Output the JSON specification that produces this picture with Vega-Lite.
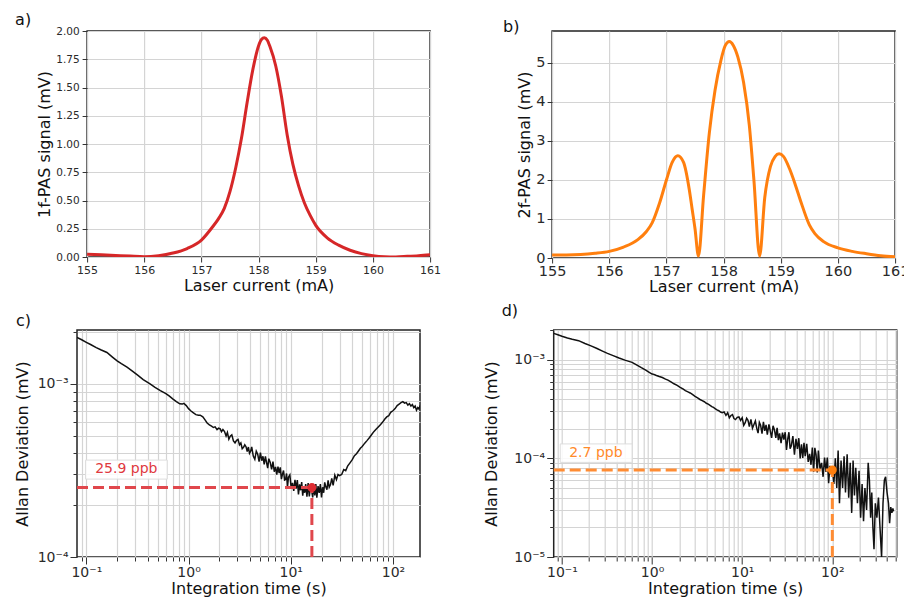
{
  "$schema": "https://vega.github.io/schema/vega-lite/v6.json",
  "padding": {"left": 13, "top": 11, "right": 0, "bottom": 0},
  "background": "white",
  "config": {
    "font": "DejaVu Sans",
    "view": {"stroke": "#222", "strokeWidth": 1.5},
    "axis": {"domain": false, "gridColor": "#d4d4d4", "gridWidth": 1.2, "tickColor": "#333", "labelColor": "#2a2a2a", "titleColor": "#111", "titleFontSize": 16, "titleFontWeight": "normal", "labelFlush": false, "labelOverlap": false, "labelFont": "DejaVu Sans", "titleFont": "DejaVu Sans"},
    "title": {"fontSize": 16, "fontWeight": "normal", "anchor": "start", "frame": "group", "color": "#111", "font": "DejaVu Sans"}
  },
  "datasets": {
    "a": [
      {"current": 155.0, "signal": 0.025}, {"current": 155.25, "signal": 0.02}, {"current": 155.5, "signal": 0.014}, {"current": 155.75, "signal": 0.008},
      {"current": 156.0, "signal": 0.003}, {"current": 156.25, "signal": 0.012}, {"current": 156.5, "signal": 0.035}, {"current": 156.75, "signal": 0.075},
      {"current": 157.0, "signal": 0.15}, {"current": 157.2, "signal": 0.27}, {"current": 157.3, "signal": 0.34}, {"current": 157.4, "signal": 0.43},
      {"current": 157.5, "signal": 0.58}, {"current": 157.6, "signal": 0.79}, {"current": 157.7, "signal": 1.05}, {"current": 157.8, "signal": 1.37},
      {"current": 157.9, "signal": 1.66}, {"current": 158.0, "signal": 1.87}, {"current": 158.05, "signal": 1.925}, {"current": 158.1, "signal": 1.94},
      {"current": 158.15, "signal": 1.92}, {"current": 158.2, "signal": 1.86}, {"current": 158.3, "signal": 1.69}, {"current": 158.4, "signal": 1.42},
      {"current": 158.5, "signal": 1.08}, {"current": 158.6, "signal": 0.82}, {"current": 158.7, "signal": 0.63}, {"current": 158.8, "signal": 0.48},
      {"current": 158.9, "signal": 0.37}, {"current": 159.0, "signal": 0.28}, {"current": 159.2, "signal": 0.17}, {"current": 159.4, "signal": 0.105},
      {"current": 159.6, "signal": 0.06}, {"current": 159.8, "signal": 0.03}, {"current": 160.0, "signal": 0.012}, {"current": 160.2, "signal": 0.003},
      {"current": 160.4, "signal": 0.001}, {"current": 160.6, "signal": 0.006}, {"current": 160.8, "signal": 0.012}, {"current": 161.0, "signal": 0.02}
    ],
    "b": [
      {"current": 155.0, "signal": 0.08}, {"current": 155.25, "signal": 0.08}, {"current": 155.5, "signal": 0.09}, {"current": 155.75, "signal": 0.12},
      {"current": 156.0, "signal": 0.17}, {"current": 156.25, "signal": 0.28}, {"current": 156.5, "signal": 0.47}, {"current": 156.65, "signal": 0.68},
      {"current": 156.75, "signal": 0.9}, {"current": 156.88, "signal": 1.41}, {"current": 157.0, "signal": 2.0}, {"current": 157.1, "signal": 2.45},
      {"current": 157.2, "signal": 2.62}, {"current": 157.3, "signal": 2.45}, {"current": 157.4, "signal": 1.75}, {"current": 157.45, "signal": 1.25},
      {"current": 157.5, "signal": 0.75}, {"current": 157.56, "signal": 0.05}, {"current": 157.65, "signal": 1.6}, {"current": 157.75, "signal": 3.2},
      {"current": 157.85, "signal": 4.3}, {"current": 157.95, "signal": 5.05}, {"current": 158.03, "signal": 5.45}, {"current": 158.1, "signal": 5.55},
      {"current": 158.17, "signal": 5.45}, {"current": 158.25, "signal": 5.15}, {"current": 158.35, "signal": 4.5}, {"current": 158.45, "signal": 3.4},
      {"current": 158.53, "signal": 2.0}, {"current": 158.63, "signal": 0.05}, {"current": 158.72, "signal": 1.55}, {"current": 158.82, "signal": 2.35},
      {"current": 158.9, "signal": 2.6}, {"current": 158.97, "signal": 2.67}, {"current": 159.05, "signal": 2.6}, {"current": 159.15, "signal": 2.3},
      {"current": 159.25, "signal": 1.9}, {"current": 159.35, "signal": 1.45}, {"current": 159.5, "signal": 0.85}, {"current": 159.6, "signal": 0.62},
      {"current": 159.75, "signal": 0.42}, {"current": 160.0, "signal": 0.26}, {"current": 160.25, "signal": 0.17}, {"current": 160.5, "signal": 0.11},
      {"current": 160.75, "signal": 0.06}, {"current": 161.0, "signal": 0.03}
    ],
    "c": [
      {"tau": 0.081, "adev": 0.00186}, {"tau": 0.09, "adev": 0.0018}, {"tau": 0.1, "adev": 0.00174}, {"tau": 0.11, "adev": 0.00169},
      {"tau": 0.125, "adev": 0.00162}, {"tau": 0.14, "adev": 0.00157}, {"tau": 0.159, "adev": 0.00152}, {"tau": 0.18, "adev": 0.00143},
      {"tau": 0.2, "adev": 0.00136}, {"tau": 0.22, "adev": 0.00131}, {"tau": 0.25, "adev": 0.00125}, {"tau": 0.28, "adev": 0.00119},
      {"tau": 0.32, "adev": 0.00112}, {"tau": 0.36, "adev": 0.00106}, {"tau": 0.42, "adev": 0.001}, {"tau": 0.47, "adev": 0.000955},
      {"tau": 0.53, "adev": 0.000915}, {"tau": 0.6, "adev": 0.00088}, {"tau": 0.65, "adev": 0.00085}, {"tau": 0.7, "adev": 0.00082},
      {"tau": 0.76, "adev": 0.00079}, {"tau": 0.82, "adev": 0.000768}, {"tau": 0.87, "adev": 0.000765}, {"tau": 0.9, "adev": 0.000772},
      {"tau": 0.95, "adev": 0.00075}, {"tau": 1.0, "adev": 0.00072}, {"tau": 1.05, "adev": 0.0007}, {"tau": 1.1, "adev": 0.000685},
      {"tau": 1.18, "adev": 0.000665}, {"tau": 1.25, "adev": 0.00066}, {"tau": 1.3, "adev": 0.00066}, {"tau": 1.38, "adev": 0.000645},
      {"tau": 1.45, "adev": 0.00062}, {"tau": 1.52, "adev": 0.000595}, {"tau": 1.6, "adev": 0.00058}, {"tau": 1.68, "adev": 0.00057},
      {"tau": 1.75, "adev": 0.00056}, {"tau": 1.82, "adev": 0.000565}, {"tau": 1.9, "adev": 0.000545}, {"tau": 1.97, "adev": 0.000555},
      {"tau": 2.04, "adev": 0.00055}, {"tau": 2.1, "adev": 0.00053}, {"tau": 2.17, "adev": 0.000545}, {"tau": 2.25, "adev": 0.000531},
      {"tau": 2.33, "adev": 0.0005}, {"tau": 2.4, "adev": 0.000525}, {"tau": 2.48, "adev": 0.00048}, {"tau": 2.56, "adev": 0.000499},
      {"tau": 2.65, "adev": 0.000508}, {"tau": 2.75, "adev": 0.000469}, {"tau": 2.85, "adev": 0.000456}, {"tau": 2.95, "adev": 0.000472},
      {"tau": 3.05, "adev": 0.000478}, {"tau": 3.15, "adev": 0.000445}, {"tau": 3.25, "adev": 0.000456}, {"tau": 3.35, "adev": 0.000422},
      {"tau": 3.45, "adev": 0.00043}, {"tau": 3.55, "adev": 0.000445}, {"tau": 3.65, "adev": 0.000434}, {"tau": 3.75, "adev": 0.000407},
      {"tau": 3.85, "adev": 0.000432}, {"tau": 3.95, "adev": 0.000397}, {"tau": 4.05, "adev": 0.000408}, {"tau": 4.15, "adev": 0.000433},
      {"tau": 4.3, "adev": 0.000383}, {"tau": 4.45, "adev": 0.000367}, {"tau": 4.6, "adev": 0.000409}, {"tau": 4.75, "adev": 0.000393},
      {"tau": 4.9, "adev": 0.000356}, {"tau": 5.05, "adev": 0.000401}, {"tau": 5.2, "adev": 0.00036}, {"tau": 5.35, "adev": 0.000382},
      {"tau": 5.5, "adev": 0.000343}, {"tau": 5.65, "adev": 0.000381}, {"tau": 5.8, "adev": 0.000351}, {"tau": 5.95, "adev": 0.000326},
      {"tau": 6.1, "adev": 0.00037}, {"tau": 6.3, "adev": 0.000352}, {"tau": 6.5, "adev": 0.000321}, {"tau": 6.7, "adev": 0.000356},
      {"tau": 6.9, "adev": 0.000311}, {"tau": 7.1, "adev": 0.000332}, {"tau": 7.3, "adev": 0.000299}, {"tau": 7.5, "adev": 0.000333},
      {"tau": 7.7, "adev": 0.000305}, {"tau": 7.9, "adev": 0.00033}, {"tau": 8.1, "adev": 0.000282}, {"tau": 8.3, "adev": 0.000301},
      {"tau": 8.5, "adev": 0.000316}, {"tau": 8.7, "adev": 0.000278}, {"tau": 8.9, "adev": 0.00028}, {"tau": 9.1, "adev": 0.000304},
      {"tau": 9.3, "adev": 0.000255}, {"tau": 9.5, "adev": 0.000289}, {"tau": 9.8, "adev": 0.000298}, {"tau": 10.1, "adev": 0.000251},
      {"tau": 10.4, "adev": 0.000268}, {"tau": 10.7, "adev": 0.000241}, {"tau": 11.0, "adev": 0.000279}, {"tau": 11.3, "adev": 0.000248},
      {"tau": 11.6, "adev": 0.000278}, {"tau": 11.9, "adev": 0.00023}, {"tau": 12.2, "adev": 0.000263}, {"tau": 12.5, "adev": 0.000243},
      {"tau": 12.8, "adev": 0.000271}, {"tau": 13.1, "adev": 0.000226}, {"tau": 13.4, "adev": 0.000256}, {"tau": 13.7, "adev": 0.000235},
      {"tau": 14.0, "adev": 0.000264}, {"tau": 14.4, "adev": 0.000223}, {"tau": 14.8, "adev": 0.000267}, {"tau": 15.2, "adev": 0.000224},
      {"tau": 15.6, "adev": 0.000255}, {"tau": 16.0, "adev": 0.000243}, {"tau": 16.4, "adev": 0.000221}, {"tau": 16.8, "adev": 0.00026},
      {"tau": 17.2, "adev": 0.000227}, {"tau": 17.6, "adev": 0.000264}, {"tau": 18.0, "adev": 0.00022}, {"tau": 18.5, "adev": 0.000257},
      {"tau": 19.0, "adev": 0.000235}, {"tau": 19.5, "adev": 0.000264}, {"tau": 20.0, "adev": 0.000221}, {"tau": 20.5, "adev": 0.000253},
      {"tau": 21.0, "adev": 0.000235}, {"tau": 21.5, "adev": 0.00027}, {"tau": 22.0, "adev": 0.000255}, {"tau": 22.6, "adev": 0.000245},
      {"tau": 23.2, "adev": 0.000277}, {"tau": 23.8, "adev": 0.000253}, {"tau": 24.5, "adev": 0.000262}, {"tau": 25.2, "adev": 0.000285},
      {"tau": 26.0, "adev": 0.000259}, {"tau": 27.0, "adev": 0.000297}, {"tau": 28.0, "adev": 0.00028}, {"tau": 29.0, "adev": 0.0003},
      {"tau": 30.0, "adev": 0.000295}, {"tau": 31.5, "adev": 0.0003}, {"tau": 33.0, "adev": 0.00032}, {"tau": 34.5, "adev": 0.000315},
      {"tau": 36.0, "adev": 0.000335}, {"tau": 38.0, "adev": 0.00035}, {"tau": 40.0, "adev": 0.000365}, {"tau": 42.0, "adev": 0.000385},
      {"tau": 44.0, "adev": 0.000395}, {"tau": 46.0, "adev": 0.00041}, {"tau": 48.0, "adev": 0.000425}, {"tau": 50.0, "adev": 0.000435},
      {"tau": 53.0, "adev": 0.000455}, {"tau": 56.0, "adev": 0.000472}, {"tau": 59.0, "adev": 0.00049}, {"tau": 62.0, "adev": 0.00051},
      {"tau": 65.0, "adev": 0.00053}, {"tau": 68.0, "adev": 0.000545}, {"tau": 71.0, "adev": 0.00056}, {"tau": 75.0, "adev": 0.00058},
      {"tau": 79.0, "adev": 0.0006}, {"tau": 83.0, "adev": 0.000625}, {"tau": 87.0, "adev": 0.000645}, {"tau": 91.0, "adev": 0.000655},
      {"tau": 95.0, "adev": 0.000685}, {"tau": 100.0, "adev": 0.0007}, {"tau": 105.0, "adev": 0.00072}, {"tau": 110.0, "adev": 0.00075},
      {"tau": 115.0, "adev": 0.000765}, {"tau": 120.0, "adev": 0.00078}, {"tau": 125.0, "adev": 0.00079}, {"tau": 130.0, "adev": 0.000775},
      {"tau": 135.0, "adev": 0.00078}, {"tau": 140.0, "adev": 0.000755}, {"tau": 145.0, "adev": 0.00077}, {"tau": 150.0, "adev": 0.000745},
      {"tau": 155.0, "adev": 0.00076}, {"tau": 160.0, "adev": 0.00073}, {"tau": 165.0, "adev": 0.000745}, {"tau": 170.0, "adev": 0.000705},
      {"tau": 175.0, "adev": 0.00073}, {"tau": 180.0, "adev": 0.000715}, {"tau": 184.0, "adev": 0.00075}
    ],
    "d": [
      {"tau": 0.081, "adev": 0.00185}, {"tau": 0.09, "adev": 0.00179}, {"tau": 0.1, "adev": 0.00173}, {"tau": 0.115, "adev": 0.00166},
      {"tau": 0.13, "adev": 0.00161}, {"tau": 0.153, "adev": 0.00156}, {"tau": 0.18, "adev": 0.00146}, {"tau": 0.21, "adev": 0.00138},
      {"tau": 0.245, "adev": 0.0013}, {"tau": 0.278, "adev": 0.00123}, {"tau": 0.32, "adev": 0.00116}, {"tau": 0.37, "adev": 0.0011},
      {"tau": 0.43, "adev": 0.00104}, {"tau": 0.5, "adev": 0.00099}, {"tau": 0.6, "adev": 0.00094}, {"tau": 0.68, "adev": 0.00088},
      {"tau": 0.76, "adev": 0.00083}, {"tau": 0.85, "adev": 0.000785}, {"tau": 0.92, "adev": 0.00075}, {"tau": 1.0, "adev": 0.000715},
      {"tau": 1.05, "adev": 0.00071}, {"tau": 1.1, "adev": 0.000695}, {"tau": 1.2, "adev": 0.000675}, {"tau": 1.3, "adev": 0.00066},
      {"tau": 1.41, "adev": 0.000636}, {"tau": 1.5, "adev": 0.00062}, {"tau": 1.62, "adev": 0.000595}, {"tau": 1.75, "adev": 0.00057},
      {"tau": 1.9, "adev": 0.00055}, {"tau": 2.05, "adev": 0.000525}, {"tau": 2.2, "adev": 0.000505}, {"tau": 2.34, "adev": 0.000485},
      {"tau": 2.5, "adev": 0.000472}, {"tau": 2.65, "adev": 0.00046}, {"tau": 2.8, "adev": 0.000445}, {"tau": 3.0, "adev": 0.000425},
      {"tau": 3.2, "adev": 0.00041}, {"tau": 3.4, "adev": 0.000395}, {"tau": 3.6, "adev": 0.000385}, {"tau": 3.8, "adev": 0.000375},
      {"tau": 4.0, "adev": 0.000362}, {"tau": 4.2, "adev": 0.000355}, {"tau": 4.4, "adev": 0.000345}, {"tau": 4.6, "adev": 0.000335},
      {"tau": 4.8, "adev": 0.000328}, {"tau": 5.0, "adev": 0.00032}, {"tau": 5.25, "adev": 0.00031}, {"tau": 5.5, "adev": 0.000304},
      {"tau": 5.75, "adev": 0.000295}, {"tau": 6.0, "adev": 0.00029}, {"tau": 6.3, "adev": 0.000296}, {"tau": 6.6, "adev": 0.000273},
      {"tau": 6.9, "adev": 0.00029}, {"tau": 7.2, "adev": 0.000258}, {"tau": 7.5, "adev": 0.000272}, {"tau": 7.8, "adev": 0.000278},
      {"tau": 8.1, "adev": 0.000253}, {"tau": 8.43, "adev": 0.000247}, {"tau": 8.8, "adev": 0.00026}, {"tau": 9.2, "adev": 0.000263},
      {"tau": 9.6, "adev": 0.000242}, {"tau": 10.0, "adev": 0.000258}, {"tau": 10.4, "adev": 0.000216}, {"tau": 10.8, "adev": 0.00023},
      {"tau": 11.2, "adev": 0.000255}, {"tau": 11.6, "adev": 0.000243}, {"tau": 12.0, "adev": 0.00021}, {"tau": 12.5, "adev": 0.000248},
      {"tau": 13.0, "adev": 0.000202}, {"tau": 13.5, "adev": 0.00022}, {"tau": 14.0, "adev": 0.000239}, {"tau": 14.5, "adev": 0.000202},
      {"tau": 15.0, "adev": 0.00018}, {"tau": 15.5, "adev": 0.000232}, {"tau": 16.0, "adev": 0.000217}, {"tau": 16.6, "adev": 0.000178},
      {"tau": 17.2, "adev": 0.000235}, {"tau": 17.8, "adev": 0.00019}, {"tau": 18.4, "adev": 0.000218}, {"tau": 19.0, "adev": 0.000174},
      {"tau": 19.8, "adev": 0.000221}, {"tau": 20.5, "adev": 0.000189}, {"tau": 21.2, "adev": 0.000161}, {"tau": 22.0, "adev": 0.000214},
      {"tau": 22.8, "adev": 0.000194}, {"tau": 23.6, "adev": 0.000161}, {"tau": 24.4, "adev": 0.000204}, {"tau": 25.2, "adev": 0.000153},
      {"tau": 26.0, "adev": 0.000179}, {"tau": 27.0, "adev": 0.000143}, {"tau": 28.0, "adev": 0.000182}, {"tau": 29.0, "adev": 0.000155},
      {"tau": 30.0, "adev": 0.000184}, {"tau": 31.0, "adev": 0.000122}, {"tau": 32.0, "adev": 0.000157}, {"tau": 33.0, "adev": 0.000184},
      {"tau": 34.0, "adev": 0.000125}, {"tau": 35.0, "adev": 0.000133}, {"tau": 36.5, "adev": 0.000168}, {"tau": 38.0, "adev": 0.000109},
      {"tau": 39.5, "adev": 0.000158}, {"tau": 41.0, "adev": 0.000125}, {"tau": 42.5, "adev": 0.00016}, {"tau": 44.0, "adev": 0.0001},
      {"tau": 45.5, "adev": 0.000139}, {"tau": 47.0, "adev": 0.000101}, {"tau": 48.5, "adev": 0.000144}, {"tau": 50.0, "adev": 0.000105},
      {"tau": 52.0, "adev": 0.00014}, {"tau": 54.0, "adev": 0.000092}, {"tau": 56.0, "adev": 0.000111}, {"tau": 58.0, "adev": 0.000086},
      {"tau": 60.0, "adev": 0.000129}, {"tau": 62.0, "adev": 0.000073}, {"tau": 64.0, "adev": 0.000128}, {"tau": 66.0, "adev": 0.000109},
      {"tau": 68.0, "adev": 0.000072}, {"tau": 70.0, "adev": 0.00012}, {"tau": 73.0, "adev": 0.000078}, {"tau": 76.0, "adev": 0.00009},
      {"tau": 79.0, "adev": 0.000065}, {"tau": 82.0, "adev": 0.000102}, {"tau": 85.0, "adev": 0.000073}, {"tau": 88.0, "adev": 0.000102},
      {"tau": 91.0, "adev": 0.000056}, {"tau": 94.0, "adev": 0.000084}, {"tau": 97.0, "adev": 0.000069}, {"tau": 100.0, "adev": 0.00008},
      {"tau": 104.0, "adev": 0.000055}, {"tau": 108.0, "adev": 0.0001}, {"tau": 112.0, "adev": 0.00005}, {"tau": 116.0, "adev": 0.00012},
      {"tau": 120.0, "adev": 0.000035}, {"tau": 125.0, "adev": 0.000095}, {"tau": 130.0, "adev": 0.00005}, {"tau": 135.0, "adev": 0.000105},
      {"tau": 140.0, "adev": 0.000045}, {"tau": 146.0, "adev": 0.00011}, {"tau": 152.0, "adev": 0.00004}, {"tau": 158.0, "adev": 0.00009},
      {"tau": 164.0, "adev": 0.000028}, {"tau": 170.0, "adev": 0.000095}, {"tau": 176.0, "adev": 0.000042}, {"tau": 182.0, "adev": 0.00008},
      {"tau": 190.0, "adev": 0.000035}, {"tau": 198.0, "adev": 0.000075}, {"tau": 206.0, "adev": 0.000025}, {"tau": 214.0, "adev": 0.000055},
      {"tau": 222.0, "adev": 0.000023}, {"tau": 230.0, "adev": 0.00005}, {"tau": 240.0, "adev": 0.00003}, {"tau": 250.0, "adev": 0.00009},
      {"tau": 258.0, "adev": 0.00006}, {"tau": 266.0, "adev": 0.000025}, {"tau": 274.0, "adev": 0.000045}, {"tau": 282.0, "adev": 0.00002},
      {"tau": 290.0, "adev": 0.000012}, {"tau": 300.0, "adev": 0.000035}, {"tau": 312.0, "adev": 0.000025}, {"tau": 325.0, "adev": 0.00004},
      {"tau": 338.0, "adev": 0.00002}, {"tau": 352.0, "adev": 0.00001}, {"tau": 365.0, "adev": 0.000035}, {"tau": 378.0, "adev": 0.00006},
      {"tau": 390.0, "adev": 0.000065}, {"tau": 405.0, "adev": 0.000045}, {"tau": 420.0, "adev": 0.000035}, {"tau": 432.0, "adev": 0.000022},
      {"tau": 445.0, "adev": 0.000032}, {"tau": 458.0, "adev": 0.000028}, {"tau": 470.0, "adev": 0.000031}, {"tau": 478.0, "adev": 0.000029}
    ]
  },
  "spacing": 6,
  "vconcat": [
    {
      "spacing": -63.9,
      "hconcat": [
        {
          "width": 1, "height": 226,
          "view": {"stroke": null},
          "data": {"values": []},
          "mark": {"type": "point", "opacity": 0}
        },
        {
          "spacing": 60,
          "hconcat": [
            {
              "width": 343, "height": 226,
              "title": {"text": "a)", "dx": -72, "offset": -2},
              "data": {"name": "a"},
              "mark": {"type": "line", "color": "#d62728", "strokeWidth": 3, "interpolate": "monotone", "clip": true},
              "encoding": {
                "x": {"field": "current", "type": "quantitative", "scale": {"domain": [155, 161], "nice": false, "zero": false},
                      "axis": {"title": "Laser current (mA)", "values": [155, 156, 157, 158, 159, 160, 161], "labelFontSize": 11, "tickSize": 5, "labelPadding": 2, "titlePadding": 2}},
                "y": {"field": "signal", "type": "quantitative", "scale": {"domain": [0, 2], "nice": false},
                      "axis": {"title": "1f-PAS signal (mV)", "values": [0, 0.25, 0.5, 0.75, 1, 1.25, 1.5, 1.75, 2], "format": ".2f", "labelFontSize": 10.5, "tickSize": 5, "labelPadding": 3, "titlePadding": 3}}
              }
            },
            {
              "width": 343, "height": 227,
              "title": {"text": "b)", "dx": -49, "offset": -4},
              "data": {"name": "b"},
              "mark": {"type": "line", "color": "#ff7f0e", "strokeWidth": 3, "interpolate": "monotone", "clip": true},
              "encoding": {
                "x": {"field": "current", "type": "quantitative", "scale": {"domain": [155, 161], "nice": false, "zero": false},
                      "axis": {"title": "Laser current (mA)", "values": [155, 156, 157, 158, 159, 160, 161], "labelFontSize": 14.5, "tickSize": 5, "labelPadding": 1, "titlePadding": 1}},
                "y": {"field": "signal", "type": "quantitative", "scale": {"domain": [0, 5.82], "nice": false},
                      "axis": {"title": "2f-PAS signal (mV)", "values": [0, 1, 2, 3, 4, 5], "labelFontSize": 14.5, "tickSize": 5, "labelPadding": 2, "titlePadding": 3}}
              }
            }
          ]
        }
      ]
    },
    {
      "spacing": 61.7,
      "hconcat": [
        {
          "width": 343, "height": 227,
          "title": {"text": "c)", "dx": -61, "offset": -4},
          "encoding": {
            "x": {"field": "tau", "type": "quantitative", "scale": {"type": "log", "domain": [0.081, 184], "nice": false},
                  "axis": {"title": "Integration time (s)", "values": [0.09, 0.1, 0.2, 0.3, 0.4, 0.5, 0.6, 0.7, 0.8, 0.9, 1, 2, 3, 4, 5, 6, 7, 8, 9, 10, 20, 30, 40, 50, 60, 70, 80, 90, 100],
                           "labelExpr": "datum.value == 0.1 ? '10⁻¹' : datum.value == 1 ? '10⁰' : datum.value == 10 ? '10¹' : datum.value == 100 ? '10²' : ''",
                           "tickSize": {"condition": {"test": "datum.value == 0.1 || datum.value == 1 || datum.value == 10 || datum.value == 100", "value": 7}, "value": 4},
                           "labelFontSize": 14, "labelPadding": 1, "titlePadding": 1}},
            "y": {"field": "adev", "type": "quantitative", "scale": {"type": "log", "domain": [0.0001, 0.00205], "nice": false},
                  "axis": {"title": "Allan Deviation (mV)", "values": [0.0001, 0.0002, 0.0003, 0.0004, 0.0005, 0.0006, 0.0007, 0.0008, 0.0009, 0.001, 0.002],
                           "labelExpr": "datum.value == 0.001 ? '10⁻³' : datum.value == 0.0001 ? '10⁻⁴' : ''",
                           "tickSize": {"condition": {"test": "datum.value == 0.001 || datum.value == 0.0001", "value": 7}, "value": 4},
                           "labelFontSize": 14, "labelPadding": 2, "titlePadding": 6.7}}
          },
          "layer": [
            {"data": {"name": "c"}, "mark": {"type": "line", "color": "#111", "strokeWidth": 1.5, "clip": true}},
            {"data": {"values": [{"tau": 0.098, "tau2": 0.62, "adev": 0.000282, "adev2": 0.000363}]},
             "mark": {"type": "rect", "fill": "white", "fillOpacity": 0.85, "stroke": "#dddddd", "strokeWidth": 1},
             "encoding": {"x2": {"field": "tau2"}, "y2": {"field": "adev2"}}},
            {"data": {"values": [{"tau": 0.246, "adev": 0.000323, "label": "25.9 ppb"}]},
             "mark": {"type": "text", "color": "#e0393e", "fontSize": 14, "align": "center", "baseline": "middle"},
             "encoding": {"text": {"field": "label"}}},
            {"data": {"values": [{"tau": 0.081, "tau2": 16.1, "adev": 0.000252}]},
             "mark": {"type": "rule", "color": "#e0474c", "strokeWidth": 3, "strokeDash": [11, 5]},
             "encoding": {"x2": {"field": "tau2"}}},
            {"data": {"values": [{"tau": 16.1, "adev": 0.0001, "adev2": 0.000252}]},
             "mark": {"type": "rule", "color": "#e0474c", "strokeWidth": 3, "strokeDash": [11, 5]},
             "encoding": {"y2": {"field": "adev2"}}},
            {"data": {"values": [{"tau": 16.1, "adev": 0.000252}]},
             "mark": {"type": "point", "filled": true, "size": 80, "color": "#dd2c32", "opacity": 1}}
          ]
        },
        {
          "width": 343, "height": 227,
          "title": {"text": "d)", "dx": -52, "offset": 4},
          "encoding": {
            "x": {"field": "tau", "type": "quantitative", "scale": {"type": "log", "domain": [0.081, 518], "nice": false},
                  "axis": {"title": "Integration time (s)", "values": [0.09, 0.1, 0.2, 0.3, 0.4, 0.5, 0.6, 0.7, 0.8, 0.9, 1, 2, 3, 4, 5, 6, 7, 8, 9, 10, 20, 30, 40, 50, 60, 70, 80, 90, 100, 200, 300, 400, 500],
                           "labelExpr": "datum.value == 0.1 ? '10⁻¹' : datum.value == 1 ? '10⁰' : datum.value == 10 ? '10¹' : datum.value == 100 ? '10²' : ''",
                           "tickSize": {"condition": {"test": "datum.value == 0.1 || datum.value == 1 || datum.value == 10 || datum.value == 100", "value": 7}, "value": 4},
                           "labelFontSize": 14, "labelPadding": 1, "titlePadding": 1}},
            "y": {"field": "adev", "type": "quantitative", "scale": {"type": "log", "domain": [0.00001, 0.002], "nice": false},
                  "axis": {"title": "Allan Deviation (mV)", "values": [0.00001, 0.00002, 0.00003, 0.00004, 0.00005, 0.00006, 0.00007, 0.00008, 0.00009, 0.0001, 0.0002, 0.0003, 0.0004, 0.0005, 0.0006, 0.0007, 0.0008, 0.0009, 0.001, 0.002],
                           "labelExpr": "datum.value == 0.001 ? '10⁻³' : datum.value == 0.0001 ? '10⁻⁴' : datum.value == 0.00001 ? '10⁻⁵' : ''",
                           "tickSize": {"condition": {"test": "datum.value == 0.001 || datum.value == 0.0001 || datum.value == 0.00001", "value": 7}, "value": 4},
                           "labelFontSize": 14, "labelPadding": 2, "titlePadding": 14}}
          },
          "layer": [
            {"data": {"name": "d"}, "mark": {"type": "line", "color": "#111", "strokeWidth": 1.5, "clip": true}},
            {"data": {"values": [{"tau": 0.0957, "tau2": 0.6, "adev": 0.000091, "adev2": 0.00014}]},
             "mark": {"type": "rect", "fill": "white", "fillOpacity": 0.85, "stroke": "#dddddd", "strokeWidth": 1},
             "encoding": {"x2": {"field": "tau2"}, "y2": {"field": "adev2"}}},
            {"data": {"values": [{"tau": 0.238, "adev": 0.0001125, "label": "2.7 ppb"}]},
             "mark": {"type": "text", "color": "#ff8a2a", "fontSize": 14, "align": "center", "baseline": "middle"},
             "encoding": {"text": {"field": "label"}}},
            {"data": {"values": [{"tau": 0.081, "tau2": 100, "adev": 0.0000762}]},
             "mark": {"type": "rule", "color": "#ff8c33", "strokeWidth": 3, "strokeDash": [11, 5]},
             "encoding": {"x2": {"field": "tau2"}}},
            {"data": {"values": [{"tau": 100, "adev": 0.00001, "adev2": 0.0000762}]},
             "mark": {"type": "rule", "color": "#ff8c33", "strokeWidth": 3, "strokeDash": [11, 5]},
             "encoding": {"y2": {"field": "adev2"}}},
            {"data": {"values": [{"tau": 100, "adev": 0.0000762}]},
             "mark": {"type": "point", "filled": true, "size": 80, "color": "#ff7f0e", "opacity": 1}}
          ]
        }
      ]
    }
  ]
}
